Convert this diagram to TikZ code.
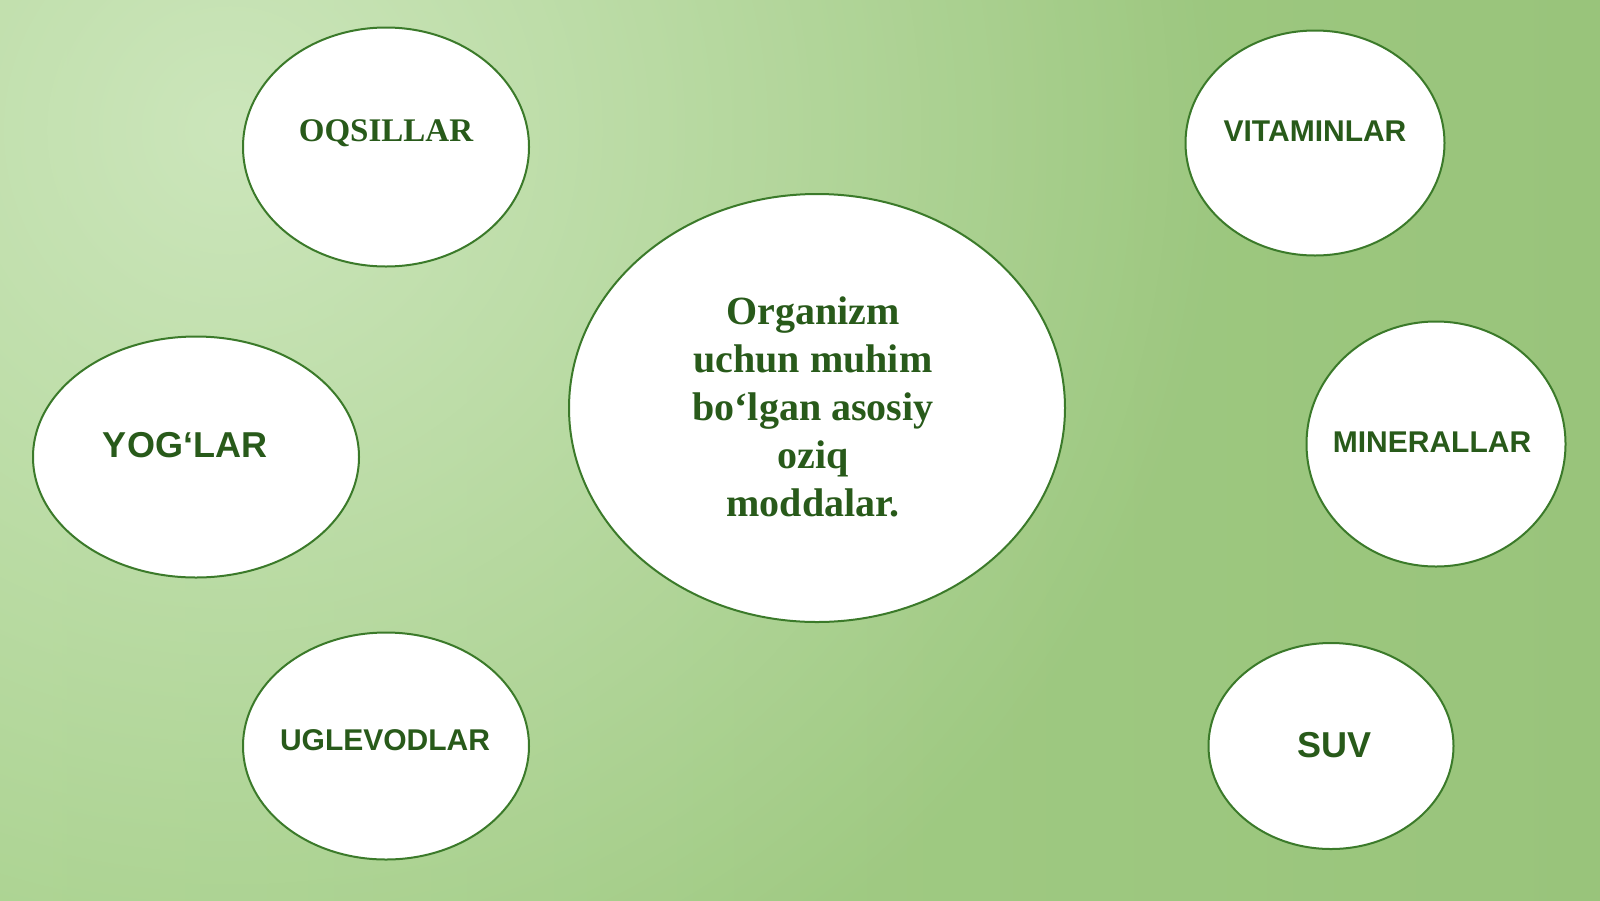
\documentclass[tikz,border=0pt]{standalone}
\usepackage{fontspec}
\setmainfont{Liberation Serif}
\setsansfont{Liberation Sans}
\usetikzlibrary{shapes.geometric,fadings}
\tikzfading[name=glowfade, inner color=transparent!0, outer color=transparent!100]
\definecolor{txtgreen}{HTML}{285A1A}
\definecolor{edgegreen}{HTML}{3B7A2A}
\definecolor{bglight}{HTML}{CCE6BB}
\definecolor{bgleft}{HTML}{A6D08A}
\definecolor{bgright}{HTML}{99C47B}
\tikzset{
  bubble/.style={ellipse, draw=edgegreen, line width=2pt, fill=white, inner sep=0pt},
  serlabel/.style={text=txtgreen, align=center},
  sanslabel/.style={text=txtgreen, align=center}
}
\begin{document}
\begin{tikzpicture}[x=1pt,y=-1pt]
\useasboundingbox (0,0) rectangle (1600,900);
\begin{scope}
\clip (0,0) rectangle (1600,900);
\shade[left color=bgleft, right color=bgright] (0,0) rectangle (1600,900);
\fill[bglight, path fading=glowfade] (230,130) circle (1000pt);
\end{scope}
% bubbles
\node[bubble, minimum width=286pt, minimum height=239pt] (oq) at (386,147) {};
\node[bubble, minimum width=259pt, minimum height=225pt] (vit) at (1315,143) {};
\node[bubble, minimum width=496pt, minimum height=428pt] (mid) at (817,408) {};
\node[bubble, minimum width=326pt, minimum height=241pt] (yog) at (196,457) {};
\node[bubble, minimum width=259pt, minimum height=245pt] (min) at (1436,444) {};
\node[bubble, minimum width=286pt, minimum height=227pt] (ugl) at (386,746) {};
\node[bubble, minimum width=245pt, minimum height=206pt] (suv) at (1331,746) {};
% labels
\node[serlabel, font=\rmfamily\bfseries\fontsize{33}{40}\selectfont] (oqt) at (386,133) {OQSILLAR};
\node[sanslabel, font=\sffamily\bfseries\fontsize{30}{36}\selectfont] (vitt) at (1315,131) {VITAMINLAR};
\node[serlabel, font=\rmfamily\bfseries\fontsize{40}{48}\selectfont] (midt) at (813,407) {Organizm\\uchun muhim\\bo‘lgan asosiy\\oziq\\moddalar.};
\node[sanslabel, font=\sffamily\bfseries\fontsize{36}{43}\selectfont] (yogt) at (185,445) {YOG‘LAR};
\node[sanslabel, font=\sffamily\bfseries\fontsize{30}{36}\selectfont] (mint) at (1432,442) {MINERALLAR};
\node[sanslabel, font=\sffamily\bfseries\fontsize{30}{36}\selectfont] (uglt) at (385,740) {UGLEVODLAR};
\node[sanslabel, font=\sffamily\bfseries\fontsize{36}{43}\selectfont] (suvt) at (1334,745) {SUV};
\end{tikzpicture}
\end{document}
